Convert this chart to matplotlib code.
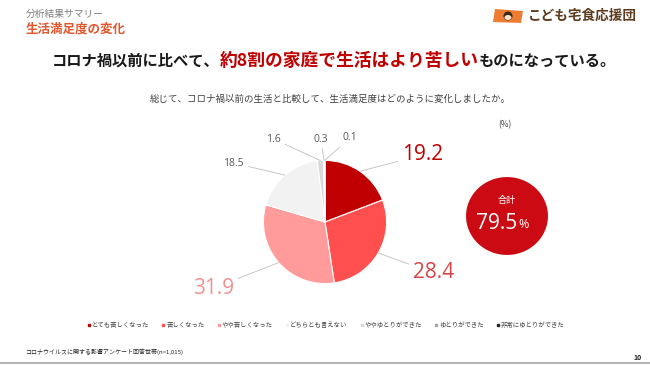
import numpy as np
import matplotlib.pyplot as plt
from matplotlib.patches import Ellipse, Polygon
from matplotlib.lines import Line2D

plt.rcParams['font.family'] = ['Noto Sans CJK JP', 'DejaVu Sans']

# data
categories = ['とても苦しくなった', '苦しくなった', 'やや苦しくなった', 'どちらとも言えない',
              'ややゆとりができた', 'ゆとりができた', '非常にゆとりができた']
values = [19.2, 28.4, 31.9, 18.5, 1.6, 0.3, 0.1]
total_label = '79.5'

colors = ['#C00000', '#FF4F4F', '#FF9B9B', '#F2F2F2', '#D9D9D9', '#A6A6A6', '#262626']
label_colors = ['#C00000', '#D64545', '#F29090', '#595959', '#595959', '#595959', '#595959']
label_sizes = [15, 15, 15, 7.5, 7.5, 7.5, 7.5]
# label text positions in pixels (x, y from top), alignment
label_pos = [(402, 155, 'left'), (413, 273, 'left'), (234, 288, 'right'),
             (244, 163, 'right'), (281, 139, 'right'), (321, 139, 'center'), (350, 138, 'center')]

W, H = 650, 365
fig = plt.figure(figsize=(6.5, 3.65), dpi=100)
fig.patch.set_facecolor('white')


def fx(x):
    return x / W


def fy(y):
    return 1 - y / H


# header
fig.text(fx(26), fy(14), '分析結果サマリー', fontsize=7, color='#7F7F7F', va='center')
fig.text(fx(26), fy(29), '生活満足度の変化', fontsize=9, color='#E4572E', va='center', fontweight='bold')

# logo
flag = Polygon([[fx(495), fy(9)], [fx(523), fy(11)], [fx(521), fy(23)], [fx(493), fy(22)]],
               closed=True, transform=fig.transFigure, facecolor='#EE7D31', edgecolor='none')
fig.patches.append(flag)
fig.patches.append(Ellipse((fx(508), fy(16)), 9 / W, 9 / H, transform=fig.transFigure,
                           facecolor='#3A2A1A', edgecolor='none'))
fig.patches.append(Ellipse((fx(508), fy(17.5)), 7 / W, 5 / H, transform=fig.transFigure,
                           facecolor='#FBE3C8', edgecolor='none'))
fig.text(fx(528), fy(16), 'こども宅食応援団', fontsize=9.8, color='#5B3A1E', va='center', fontweight='bold')

# title in three parts
fig.canvas.draw()
r = fig.canvas.get_renderer()
parts = [('コロナ禍以前に比べて、', '#1A1A1A', 11), ('約8割の家庭で生活はより苦しい', '#C00000', 12.8),
         ('ものになっている。', '#1A1A1A', 11)]
x = 52
for txt, col, fs in parts:
    t = fig.text(fx(x), fy(61), txt, fontsize=fs, color=col, fontweight='bold', va='center')
    x += t.get_window_extent(renderer=r).width

fig.text(fx(150), fy(99), '総じて、コロナ禍以前の生活と比較して、生活満足度はどのように変化しましたか。',
         fontsize=6.8, color='#404040', va='center')
fig.text(fx(498), fy(125), '(%)', fontsize=6, color='#404040', va='center')

# pie
cx, cy, rad = 325, 222, 77
ax = fig.add_axes([fx(cx - rad), fy(cy + rad), 2 * rad / W, 2 * rad / H])
wedges, _ = ax.pie(values, colors=colors, startangle=90, counterclock=False,
                   wedgeprops=dict(edgecolor='white', linewidth=0.8))
ax.set_aspect('auto')
for w, v, lc, ls, (px, py, ha) in zip(wedges, values, label_colors, label_sizes, label_pos):
    ang = np.deg2rad((w.theta1 + w.theta2) / 2)
    ax.annotate(f'{v:.1f}', xy=(np.cos(ang), np.sin(ang)), xytext=(px, H - py),
                textcoords='figure pixels', ha=ha, va='center', fontsize=ls, color=lc,
                fontfamily=['Open Sans', 'DejaVu Sans'],
                arrowprops=dict(arrowstyle='-', color='#BFBFBF', lw=0.6, shrinkA=1, shrinkB=0))

# total circle
fig.patches.append(Ellipse((fx(507), fy(216)), 84 / W, 80 / H, transform=fig.transFigure,
                           facecolor='#CC0A14', edgecolor='white', linewidth=1.5))
fig.text(fx(507), fy(200), '合計', fontsize=6.5, color='white', ha='center', va='center')
t1 = fig.text(fx(476), fy(223), total_label, fontsize=15, color='white', va='center',
              fontfamily=['Open Sans', 'DejaVu Sans'])
fig.canvas.draw()
w1 = t1.get_window_extent(renderer=fig.canvas.get_renderer()).width
fig.text(fx(476 + w1 + 1), fy(225), '%', fontsize=9, color='white', va='center',
         fontfamily=['Open Sans', 'DejaVu Sans'])

# legend
handles = [Line2D([], [], marker='s', linestyle='none', markersize=2, color=c) for c in colors]
fig.legend(handles, categories, loc='center', bbox_to_anchor=(fx(326), fy(325)), ncol=7,
           frameon=False, fontsize=4.6, handlelength=0.5, handletextpad=0.2, columnspacing=2.0,
           labelcolor='#404040')

# footnote, bottom rule, page number
fig.text(fx(25), fy(352), 'コロナウイルスに関する影響アンケート回答世帯(n=1,015)', fontsize=4.3,
         color='#262626', va='center')
fig.add_artist(Line2D([0, 1], [fy(362.5), fy(362.5)], color='#A6A6A6', lw=1.2))
fig.text(fx(642), fy(357), '10', fontsize=5, color='#262626', ha='right', va='center', fontweight='bold')

fig.savefig('out.png', dpi=100)
